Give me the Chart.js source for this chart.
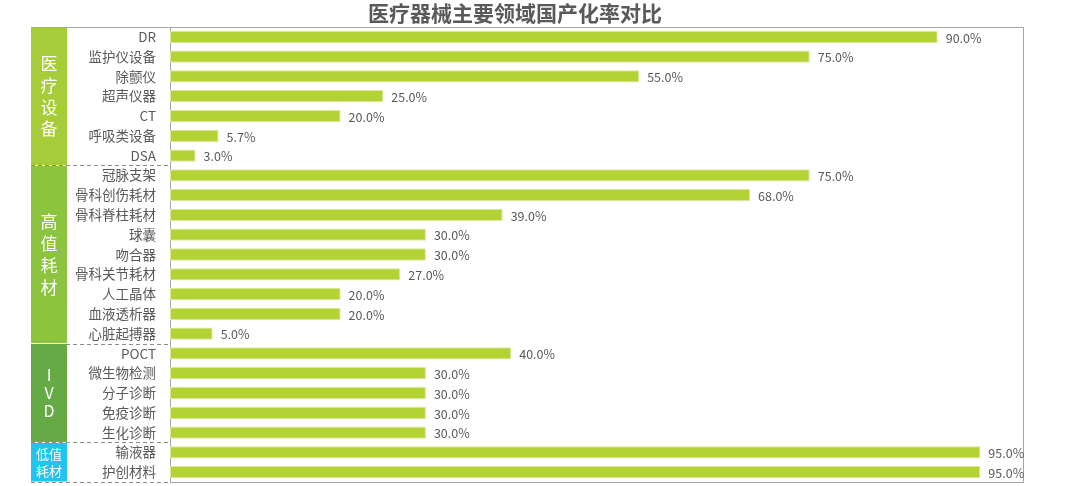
<!DOCTYPE html>
<html>
<head>
<meta charset="utf-8">
<script src="https://cdn.jsdelivr.net/npm/chart.js@4/dist/chart.umd.min.js"></script>
<style>
  html, body { margin: 0; padding: 0; background: #fff; }
  #wrap { width: 1080px; height: 486px; }
</style>
</head>
<body>
<div id="wrap"><canvas id="myChart"></canvas></div>
<script>
//Data
const categories = ['DR', '监护仪设备', '除颤仪', '超声仪器', 'CT', '呼吸类设备', 'DSA',
  '冠脉支架', '骨科创伤耗材', '骨科脊柱耗材', '球囊', '吻合器', '骨科关节耗材', '人工晶体', '血液透析器', '心脏起搏器',
  'POCT', '微生物检测', '分子诊断', '免疫诊断', '生化诊断',
  '输液器', '护创材料'];
const rates = [90, 75, 55, 25, 20, 5.7, 3.0,
  75, 68, 39, 30, 30, 27, 20, 20, 5.0,
  40, 30, 30, 30, 30,
  95, 95];
const groupNames = [['医', '疗', '设', '备'], ['高', '值', '耗', '材'], ['I', 'V', 'D'], ['低值', '耗材']];
const groupSizes = [7, 9, 5, 2];
const titleText = '医疗器械主要领域国产化率对比';

const groupColors = ['#a6cc3a', '#8cc43f', '#66aa46', '#22c3ef'];
const groupFonts = ['17px', '17px', '16px', '13px'];
const groupStep = [21.7, 21.7, 18, 17];
const FONT = '"Noto Sans CJK SC", "Noto Sans", sans-serif';

//Frame, group boxes, title and value labels
const decorations = {
  id: 'decorations',
  beforeDraw(chart) {
    const {ctx, chartArea: {left, right, top, bottom}} = chart;
    const rowH = (bottom - top) / categories.length;
    const boxL = 31, boxR = 67;
    ctx.save();
    let start = 0;
    groupSizes.forEach((n, g) => {
      const y0 = top + start * rowH;
      const y1 = top + (start + n) * rowH;
      ctx.fillStyle = groupColors[g];
      ctx.fillRect(boxL, y0 + 0.5, boxR - boxL, y1 - y0 - 1);
      // vertical text
      const chars = groupNames[g];
      const step = groupStep[g];
      const cy = (y0 + y1) / 2;
      ctx.fillStyle = '#ffffff';
      ctx.font = groupFonts[g] + ' ' + FONT;
      ctx.textAlign = 'center';
      ctx.textBaseline = 'middle';
      chars.forEach((c, i) => {
        ctx.fillText(c, (boxL + boxR) / 2, cy + (i - (chars.length - 1) / 2) * step);
      });
      // dashed separator
      ctx.strokeStyle = '#8c8c8c';
      ctx.lineWidth = 1;
      ctx.setLineDash([4, 3]);
      ctx.beginPath();
      const yy = Math.round(y1) + 0.5;
      ctx.moveTo(boxL, yy);
      ctx.lineTo(left, yy);
      ctx.stroke();
      start += n;
    });
    ctx.setLineDash([]);
    // frame
    ctx.strokeStyle = '#a6a6a6';
    ctx.lineWidth = 1;
    ctx.beginPath();
    ctx.moveTo(boxL, Math.round(top) + 0.5);
    ctx.lineTo(Math.round(right) + 0.5, Math.round(top) + 0.5);
    ctx.lineTo(Math.round(right) + 0.5, Math.round(bottom) + 0.5);
    ctx.lineTo(Math.round(left) + 0.5, Math.round(bottom) + 0.5);
    ctx.stroke();
    // title
    ctx.fillStyle = '#595959';
    ctx.font = 'bold 21px ' + FONT;
    ctx.textAlign = 'center';
    ctx.textBaseline = 'middle';
    ctx.fillText(titleText, 515, 13);
    ctx.restore();
  },
  afterDatasetsDraw(chart) {
    const {ctx} = chart;
    const meta = chart.getDatasetMeta(0);
    ctx.save();
    ctx.fillStyle = '#595959';
    ctx.font = '12.5px ' + FONT;
    ctx.textAlign = 'left';
    ctx.textBaseline = 'middle';
    meta.data.forEach((bar, i) => {
      ctx.fillText(rates[i].toFixed(1) + '%', bar.x + 8, bar.y + 1);
    });
    ctx.restore();
  }
};

var myChart = new Chart('myChart', {
  type: 'bar',
  data: {
    labels: categories,
    datasets: [{
      data: rates,
      backgroundColor: '#b3d335',
      borderColor: '#dbe99a',
      borderWidth: 1,
      borderSkipped: false,
      categoryPercentage: 1,
      barPercentage: 0.62
    }]
  },
  options: {
    indexAxis: 'y',
    responsive: true,
    maintainAspectRatio: false,
    animation: false,
    layout: {
      padding: {top: 27, right: 57, bottom: 4, left: 0}
    },
    plugins: {
      legend: {display: false},
      tooltip: {enabled: false}
    },
    scales: {
      x: {
        display: false,
        min: 0,
        max: 100
      },
      y: {
        afterFit(scale) {
          scale.width = 170;
          scale.paddingTop = 0;
          scale.paddingBottom = 0;
        },
        grid: {display: false, drawTicks: false},
        border: {display: true, color: '#a6a6a6', width: 1},
        ticks: {
          color: '#595959',
          padding: 14,
          autoSkip: false,
          font: {family: FONT, size: 13.5}
        }
      }
    }
  },
  plugins: [decorations]
});
</script>
</body>
</html>
